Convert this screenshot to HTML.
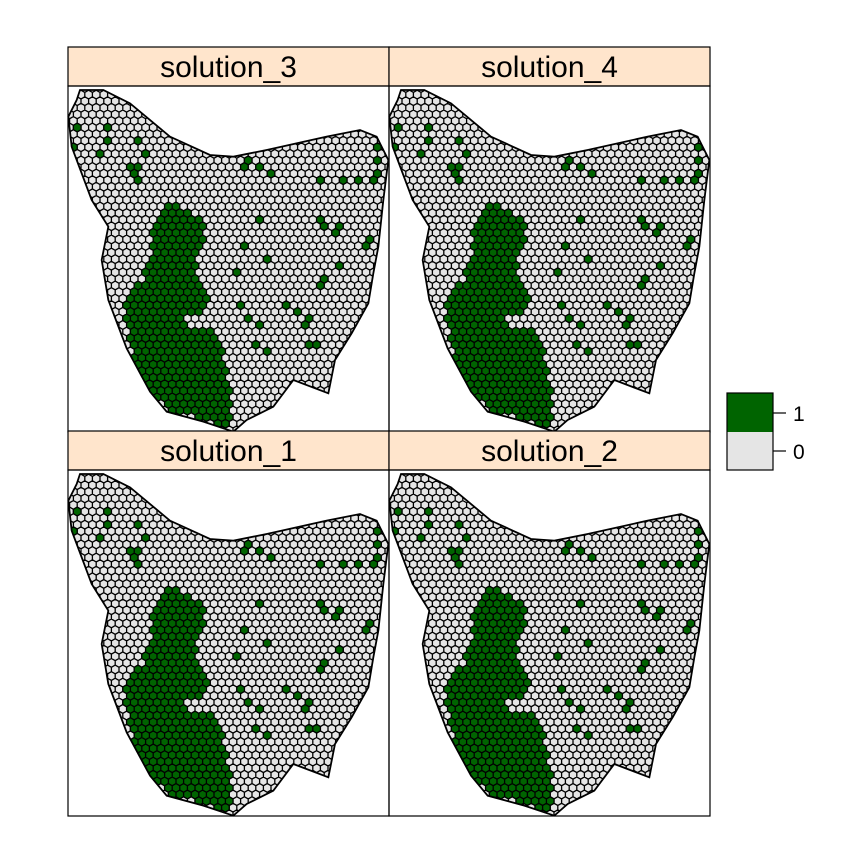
<!DOCTYPE html>
<html><head><meta charset="utf-8"><style>
html,body{margin:0;padding:0;background:#fff;}
svg{display:block;font-family:"Liberation Sans",sans-serif;}
</style></head><body>
<svg id="s" width="864" height="864" viewBox="0 0 864 864">
<rect width="864" height="864" fill="#fff"/>
<g id="panels"></g>
<g>
<rect x="727" y="393" width="46" height="39" fill="#006400"/>
<rect x="727" y="432" width="46" height="38" fill="#e5e5e5"/>
<rect x="727" y="393" width="46" height="77" fill="none" stroke="#000" stroke-width="1.2"/>
<line x1="773" y1="413" x2="786" y2="413" stroke="#000" stroke-width="1.2"/>
<line x1="773" y1="451" x2="786" y2="451" stroke="#000" stroke-width="1.2"/>
<text x="793" y="421" font-size="21">1</text>
<text x="793" y="459" font-size="21">0</text>
</g>
</svg>
<script>
const panelTitles=["solution_3","solution_4","solution_1","solution_2"];
const outlineZ=[[60,150],[130,150],[210,190],[330,290],[450,345],[520,350],[620,330],[800,290],[900,270],[950,290],[985,360],[970,480],[955,620],[940,700],[925,790],[875,880],[825,960],[805,1060],[700,1020],[640,1100],[560,1140],[520,1175],[430,1145],[320,1115],[270,1055],[200,925],[145,780],[125,660],[145,560],[95,480],[35,320],[25,230],[50,180]];
const greenZ=[[330,490],[390,510],[440,560],[430,620],[400,650],[420,720],[460,770],[430,820],[370,830],[400,870],[450,860],[480,900],[500,1000],[520,1100],[500,1160],[430,1140],[320,1110],[270,1050],[220,950],[190,830],[210,760],[250,720],[270,640],[280,560]];
const spotsZ=[[50,270],[140,270],[140,295],[50,320],[120,335],[230,295],[250,335],[230,375],[210,390],[230,410],[570,360],[545,375],[595,375],[640,400],[775,425],[840,415],[890,415],[950,320],[960,355],[955,400],[950,420],[595,530],[775,530],[795,560],[820,580],[840,570],[910,610],[930,600],[545,610],[615,650],[840,680],[930,690],[775,740],[800,725],[525,700],[545,795],[685,795],[705,810],[570,830],[595,850],[725,850],[750,830],[750,910],[775,920],[595,920],[615,940],[205,800],[230,780]];
const toAbs=p=>[60+p[0]/3,40+p[1]/3];
const outline=outlineZ.map(toAbs), green=greenZ.map(toAbs), spots=spotsZ.map(toAbs);
function inPoly(x,y,poly){let c=false;for(let i=0,j=poly.length-1;i<poly.length;j=i++){const[xi,yi]=poly[i],[xj,yj]=poly[j];if(((yi>y)!=(yj>y))&&(x<(xj-xi)*(y-yi)/(yj-yi)+xi))c=!c;}return c;}
const NS="http://www.w3.org/2000/svg";
const g=document.getElementById('panels');
const offs=[[0,0],[321,0],[0,384],[321,384]];
const w=7.6,r=w/Math.sqrt(3),dyRow=1.5*r;
offs.forEach((o,k)=>{
  const pg=document.createElementNS(NS,'g');
  
  
  const px=68+o[0],sy=47+o[1],py=86+o[1];
  const cp=document.createElementNS(NS,'clipPath');cp.setAttribute('id','cp'+k);
  const cpoly=document.createElementNS(NS,'polygon');
  cpoly.setAttribute('points',outline.map(p=>(p[0]+o[0])+','+(p[1]+o[1])).join(' '));
  cp.appendChild(cpoly);pg.appendChild(cp);
  const hg=document.createElementNS(NS,'g');hg.setAttribute('clip-path','url(#cp'+k+')');
  let d0='',d1='';
  let row=0;
  for(let y=88;y<435;y+=dyRow,row++){
    for(let x=62+(row%2)*w/2;x<395;x+=w){
      if(!(inPoly(x,y,outline)||inPoly(x+2,y,outline)||inPoly(x-2,y,outline)||inPoly(x,y+2,outline)||inPoly(x,y-2,outline)))continue;
      let gr=inPoly(x,y,green);
      if(!gr)for(const s of spots){if((s[0]-x)**2+(s[1]-y)**2<16){gr=true;break;}}
      let pts='M';
      for(let a=0;a<6;a++){const t=Math.PI/180*(60*a+30);pts+=(x+o[0]+r*Math.cos(t)).toFixed(2)+','+(y+o[1]+r*Math.sin(t)).toFixed(2)+(a<5?'L':'Z');}
      if(gr)d1+=pts;else d0+=pts;
    }
  }
  [[d0,'#e5e5e5','cells-0'],[d1,'#006400','cells-1']].forEach(([d,f,n])=>{
    const p=document.createElementNS(NS,'path');p.setAttribute('d',d);p.setAttribute('fill',f);
    p.setAttribute('stroke','#000');p.setAttribute('stroke-width','1.3');
    
    
    hg.appendChild(p);
  });
  pg.appendChild(hg);
  const ol=document.createElementNS(NS,'polygon');
  ol.setAttribute('points',outline.map(p=>(p[0]+o[0])+','+(p[1]+o[1])).join(' '));
  ol.setAttribute('fill','none');ol.setAttribute('stroke','#000');ol.setAttribute('stroke-width','1.8');
  
  
  pg.appendChild(ol);
  const st=document.createElementNS(NS,'rect');
  st.setAttribute('x',px);st.setAttribute('y',sy);st.setAttribute('width',321);st.setAttribute('height',py-sy);
  st.setAttribute('fill','#ffe5cc');st.setAttribute('stroke','#000');st.setAttribute('stroke-width','1.2');
  
  
  pg.appendChild(st);
  const tx=document.createElementNS(NS,'text');
  tx.setAttribute('x',px+160.5);tx.setAttribute('y',sy+30);tx.setAttribute('text-anchor','middle');tx.setAttribute('font-size','30');
  tx.textContent=panelTitles[k];
  
  
  pg.appendChild(tx);
  const bx=document.createElementNS(NS,'rect');
  bx.setAttribute('x',px);bx.setAttribute('y',py);bx.setAttribute('width',321);bx.setAttribute('height',346);
  bx.setAttribute('fill','none');bx.setAttribute('stroke','#000');bx.setAttribute('stroke-width','1.2');
  
  
  pg.appendChild(bx);
  g.appendChild(pg);
});
</script>
</body></html>
